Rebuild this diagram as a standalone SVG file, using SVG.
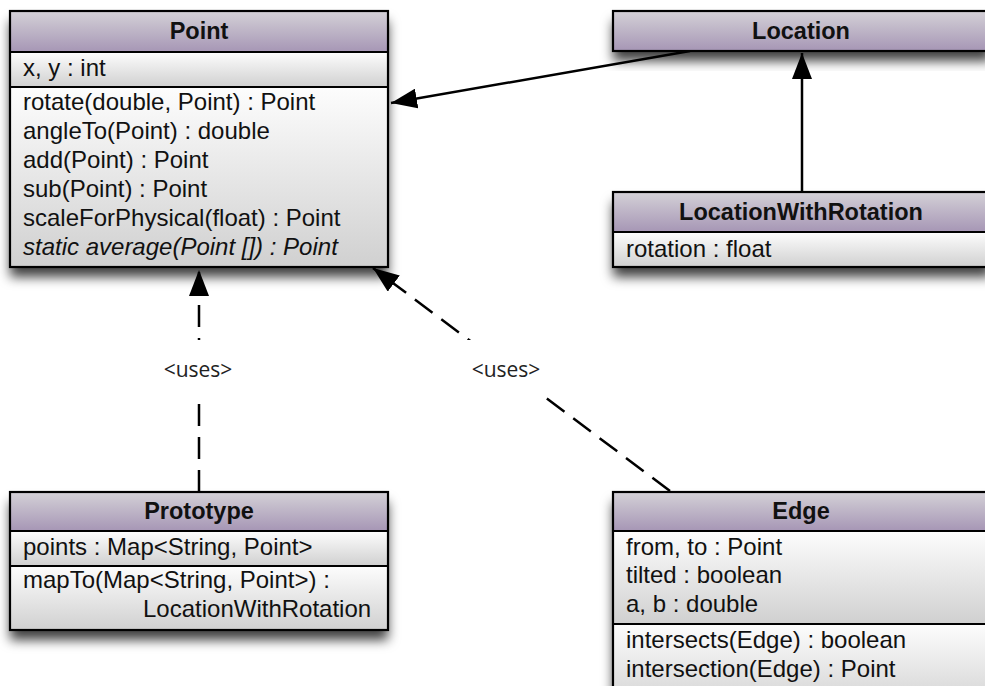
<svg xmlns="http://www.w3.org/2000/svg" width="985" height="686" viewBox="0 0 985 686">
<defs>
<linearGradient id="hdr" x1="0" y1="0" x2="0" y2="1">
<stop offset="0" stop-color="#d4d1d7"/>
<stop offset="1" stop-color="#a696b5"/>
</linearGradient>
<linearGradient id="bdy" x1="0" y1="0" x2="0" y2="1">
<stop offset="0" stop-color="#fdfdfd"/>
<stop offset="1" stop-color="#d0d0d0"/>
</linearGradient>
<filter id="sh" x="-10%" y="-10%" width="120%" height="160%">
<feDropShadow dx="0" dy="10" stdDeviation="6" flood-color="#000" flood-opacity="0.75"/>
</filter>
<marker id="arr" viewBox="0 0 26 20" refX="26" refY="10" markerWidth="26" markerHeight="20" markerUnits="userSpaceOnUse" orient="auto">
<path d="M0,0 L26,10 L0,20 z" fill="#000"/>
</marker>
</defs>
<style>
.box{stroke:#000;stroke-width:2.2}
.hd{fill:url(#hdr)}
.bd{fill:url(#bdy)}
.sh{fill:#fff;filter:url(#sh)}
.div{stroke:#000;stroke-width:2.2}
.t{font-family:"Liberation Sans",Arial,sans-serif;font-size:24px;fill:#111}
.ti{font-family:"Liberation Sans",Arial,sans-serif;font-size:23.5px;font-weight:bold;fill:#111;text-anchor:middle}
.it{font-style:italic}
.con{stroke:#000;stroke-width:2.5;fill:none}
.dash{stroke-dasharray:22 11}
.lbl{font-family:"Open Sans",sans-serif;font-size:21px;fill:#222;text-anchor:middle}
</style>
<rect width="985" height="686" fill="#fff"/>

<g id="connectors">
<line class="con" x1="690" y1="51" x2="391" y2="103" marker-end="url(#arr)"/>
<line class="con" x1="802" y1="192" x2="802" y2="53" marker-end="url(#arr)"/>
<line class="con dash" x1="199" y1="492" x2="199" y2="270" marker-end="url(#arr)"/>
<line class="con dash" x1="670" y1="491" x2="373" y2="268" marker-end="url(#arr)"/>
<rect x="158" y="340" width="80" height="58" fill="#fff"/>
<text class="lbl" x="198" y="377">&lt;uses&gt;</text>
<rect x="466" y="340" width="80" height="55" fill="#fff"/>
<text class="lbl" x="506" y="377">&lt;uses&gt;</text>
</g>

<g id="Point">
<rect class="sh" x="10" y="11" width="378" height="256"/>
<rect class="hd" x="10" y="11" width="378" height="41"/>
<rect class="bd" x="10" y="52" width="378" height="35"/>
<rect class="bd" x="10" y="87" width="378" height="180"/>
<rect class="box" x="10" y="11" width="378" height="256" fill="none"/>
<line class="div" x1="10" y1="52" x2="388" y2="52"/>
<line class="div" x1="10" y1="87" x2="388" y2="87"/>
<text class="ti" x="199" y="39">Point</text>
<text class="t" x="23" y="76">x, y : int</text>
<text class="t" x="23" y="110">rotate(double, Point) : Point</text>
<text class="t" x="23" y="139">angleTo(Point) : double</text>
<text class="t" x="23" y="168">add(Point) : Point</text>
<text class="t" x="23" y="197">sub(Point) : Point</text>
<text class="t" x="23" y="226">scaleForPhysical(float) : Point</text>
<text class="t it" x="23" y="255">static average(Point []) : Point</text>
</g>

<g id="Location">
<rect class="sh" x="613" y="11" width="378" height="40"/>
<rect class="hd" x="613" y="11" width="378" height="40"/>
<rect class="box" x="613" y="11" width="378" height="40" fill="none"/>
<text class="ti" x="801" y="39">Location</text>
</g>

<g id="LocationWithRotation">
<rect class="sh" x="613" y="192" width="378" height="75"/>
<rect class="hd" x="613" y="192" width="378" height="40"/>
<rect class="bd" x="613" y="232" width="378" height="35"/>
<rect class="box" x="613" y="192" width="378" height="75" fill="none"/>
<line class="div" x1="613" y1="232" x2="991" y2="232"/>
<text class="ti" x="801" y="220">LocationWithRotation</text>
<text class="t" x="626" y="257">rotation : float</text>
</g>

<g id="Prototype">
<rect class="sh" x="10" y="492" width="378" height="138"/>
<rect class="hd" x="10" y="492" width="378" height="39"/>
<rect class="bd" x="10" y="531" width="378" height="35"/>
<rect class="bd" x="10" y="566" width="378" height="64"/>
<rect class="box" x="10" y="492" width="378" height="138" fill="none"/>
<line class="div" x1="10" y1="531" x2="388" y2="531"/>
<line class="div" x1="10" y1="566" x2="388" y2="566"/>
<text class="ti" x="199" y="519">Prototype</text>
<text class="t" x="23" y="555">points : Map&lt;String, Point&gt;</text>
<text class="t" x="23" y="588">mapTo(Map&lt;String, Point&gt;) :</text>
<text class="t" x="143" y="617">LocationWithRotation</text>
</g>

<g id="Edge">
<rect class="sh" x="613" y="492" width="378" height="220"/>
<rect class="hd" x="613" y="492" width="378" height="39"/>
<rect class="bd" x="613" y="531" width="378" height="93"/>
<rect class="bd" x="613" y="624" width="378" height="88"/>
<rect class="box" x="613" y="492" width="378" height="220" fill="none"/>
<line class="div" x1="613" y1="531" x2="991" y2="531"/>
<line class="div" x1="613" y1="624" x2="991" y2="624"/>
<text class="ti" x="801" y="519">Edge</text>
<text class="t" x="626" y="555">from, to : Point</text>
<text class="t" x="626" y="583">tilted : boolean</text>
<text class="t" x="626" y="612">a, b : double</text>
<text class="t" x="626" y="648">intersects(Edge) : boolean</text>
<text class="t" x="626" y="677">intersection(Edge) : Point</text>
</g>
</svg>
